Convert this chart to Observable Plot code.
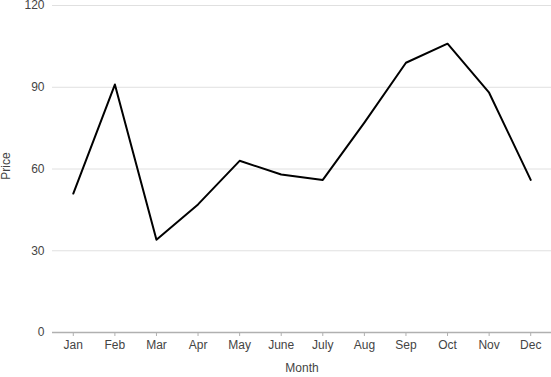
<!DOCTYPE html>
<html>
<head>
<meta charset="utf-8">
<script src="https://cdn.jsdelivr.net/npm/d3@7"></script>
<script src="https://cdn.jsdelivr.net/npm/@observablehq/plot@0.6"></script>
<style>
body { margin: 0; background: #fff; }
svg { font-family: "Liberation Sans", Arial, sans-serif; }
</style>
</head>
<body>
<div id="chart"></div>
<script>
const months = ["Jan","Feb","Mar","Apr","May","June","July","Aug","Sep","Oct","Nov","Dec"];
const prices = [51, 91, 34, 47, 63, 58, 56, 77, 99, 106, 88, 56];
const yTicks = [0, 30, 60, 90, 120];

const data = months.map((m, i) => ({month: m, price: prices[i]}));

const chart = Plot.plot({
  width: 551,
  height: 377,
  marginTop: 5,
  marginBottom: 45,
  marginLeft: 52,
  marginRight: 0,
  style: {fontSize: "12px", color: "#444", fontFamily: "Liberation Sans, Arial, sans-serif"},
  x: {type: "point", domain: months, padding: 0.5, round: false, label: null},
  y: {domain: [0, 120], label: null},
  marks: [
    Plot.gridY(yTicks, {stroke: "#e0e0e0", strokeOpacity: 1}),
    Plot.ruleY([0], {stroke: "#b0b0b0", strokeWidth: 1.5}),
    Plot.axisY(yTicks, {tickSize: 0, tickPadding: 8, label: null, fill: "#444"}),
    Plot.axisX(months, {tickSize: 4, tickPadding: 4, label: null, stroke: "#b0b0b0", fill: "#444"}),
    Plot.lineY(data, {x: "month", y: "price", stroke: "#000", strokeWidth: 2}),
    Plot.text(["Price"], {frameAnchor: "left", textAnchor: "middle", dx: -46, dy: -3, rotate: -90, fill: "#444", fontSize: 12}),
    Plot.text(["Month"], {frameAnchor: "bottom", dy: 39, fill: "#444", fontSize: 12})
  ]
});
document.getElementById("chart").appendChild(chart);
</script>
</body>
</html>
